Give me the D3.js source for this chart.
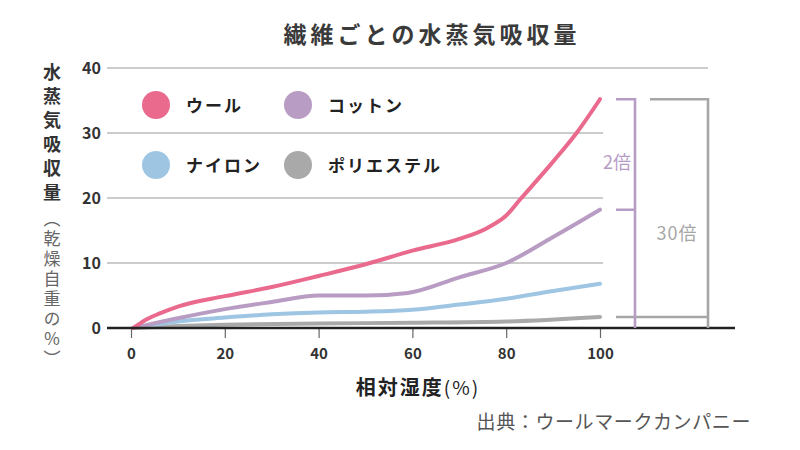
<!DOCTYPE html>
<html><head><meta charset="utf-8">
<script src="https://cdn.jsdelivr.net/npm/d3@7"></script>
<style>
html,body{margin:0;padding:0;background:#fff;}
text{font-family:"Noto Sans CJK JP","Noto Sans",sans-serif;}
</style></head>
<body><svg id="c" width="800" height="450"></svg>
<script>
// ---- data ----
const title = "繊維ごとの水蒸気吸収量";
const xTicks = [0, 20, 40, 60, 80, 100];
const yTicks = [0, 10, 20, 30, 40];
const seriesNames = ["ウール", "コットン", "ナイロン", "ポリエステル"];
const woolHumidity = [0.5, 3, 6, 10, 20, 30, 40, 50, 60, 70, 76, 80, 83, 90, 95, 100];
const woolValues   = [0, 1.2, 2.2, 3.3, 4.9, 6.3, 8.0, 9.8, 11.9, 13.7, 15.4, 17.3, 19.8, 25.6, 30, 35.2];
const cottonHumidity = [0.5, 10, 20, 30, 40, 50, 59, 70, 80, 90, 100];
const cottonValues   = [0, 1.5, 2.9, 4.0, 5.0, 5.0, 5.4, 7.8, 10.0, 14.0, 18.2];
const nylonHumidity = [0.5, 10, 20, 30, 40, 50, 60, 70, 80, 90, 100];
const nylonValues   = [0, 1.0, 1.6, 2.1, 2.4, 2.5, 2.8, 3.6, 4.5, 5.7, 6.8];
const polyHumidity = [0.5, 10, 20, 40, 60, 80, 100];
const polyValues   = [0, 0.3, 0.5, 0.7, 0.8, 1.0, 1.7];
const ratioLabels = ["2倍", "30倍"];
const yTitle = "水蒸気吸収量";
const ySub = "（乾燥自重の％）";
const xTitle = "相対湿度";
const xUnit = "(%)";
const source = "出典：ウールマークカンパニー";

// ---- styles ----
const colors = ["#ea6a8e", "#b89cc4", "#9ec6e3", "#a9a9a9"];
const bracketPurple = "#b69dc6", bracketGray = "#a6a6a6";

const svg = d3.select("#c");
const x = d3.scaleLinear().domain([0, 100]).range([131, 600]);
const y = d3.scaleLinear().domain([0, 40]).range([328, 68]);

// title
svg.append("text").attr("x", 432).attr("y", 43).attr("text-anchor", "middle")
  .attr("font-size", 23).attr("font-weight", 700).attr("fill", "#3a3a3a")
  .attr("letter-spacing", 4).text(title);

// gridlines
svg.append("g").selectAll("line").data(yTicks.filter(d => d > 0)).join("line")
  .attr("x1", 107).attr("x2", d => d === 40 ? 708 : 603)
  .attr("y1", d => y(d)).attr("y2", d => y(d))
  .attr("stroke", "#9a9a9a").attr("stroke-width", 1.2);

// y tick labels
svg.append("g").selectAll("text").data(yTicks).join("text")
  .attr("x", 101).attr("y", d => y(d) + 5.5).attr("text-anchor", "end")
  .attr("font-family", "Lato, 'Noto Sans', sans-serif")
  .attr("font-size", 16).attr("font-weight", 700).attr("fill", "#333").text(d => d);

// x axis
const xAxis = d3.axisBottom(x).tickValues(xTicks).tickSize(10).tickPadding(10);
const gx = svg.append("g").attr("transform", "translate(0,328)").call(xAxis);
gx.select(".domain").remove();
gx.selectAll(".tick line").attr("stroke", "#666").attr("stroke-width", 1.2);
gx.selectAll(".tick text").attr("font-family", "Lato, 'Noto Sans', sans-serif")
  .attr("font-size", 15).attr("font-weight", 700).attr("fill", "#333");

// series lines
const series = [
  [woolHumidity, woolValues], [cottonHumidity, cottonValues],
  [nylonHumidity, nylonValues], [polyHumidity, polyValues]
];
const line = d3.line().x(d => x(d[0])).y(d => y(d[1])).curve(d3.curveMonotoneX);
[3, 2, 1, 0].forEach(i => {
  const pts = series[i][0].map((h, j) => [h, series[i][1][j]]);
  svg.append("path").attr("d", line(pts)).attr("fill", "none")
    .attr("stroke", colors[i]).attr("stroke-width", 4).attr("stroke-linecap", "round")
    .attr("stroke-linejoin", "round");
});

// baseline
svg.append("line").attr("x1", 107).attr("x2", 735).attr("y1", y(0)).attr("y2", y(0))
  .attr("stroke", "#222").attr("stroke-width", 2.6);

// brackets
const xEnd = x(100);
const yW = y(woolValues[woolValues.length - 1]);
const yC = y(cottonValues[cottonValues.length - 1]);
const yP = y(polyValues[polyValues.length - 1]);
const bx1 = xEnd + 16, bx2 = xEnd + 35, gx1 = xEnd + 50, gx2 = xEnd + 108;
const b = svg.append("g").attr("fill", "none").attr("stroke-width", 2.6);
b.append("path").attr("d", `M${gx1},${yW}H${gx2}V${y(0)}`).attr("stroke", bracketGray);
b.append("path").attr("d", `M${bx1},${yP}H${gx2}`).attr("stroke", bracketGray);
b.append("path").attr("d", `M${bx1},${yW}H${bx2}V${y(0)}M${bx1},${yC}H${bx2}`).attr("stroke", bracketPurple);
svg.append("text").attr("x", xEnd + 17).attr("y", (yW + yC) / 2 + 15).attr("text-anchor", "middle")
  .attr("font-size", 18).attr("fill", bracketPurple).text(ratioLabels[0]);
svg.append("text").attr("x", xEnd + 77).attr("y", yC + 30).attr("text-anchor", "middle")
  .attr("font-size", 18).attr("fill", bracketGray).attr("letter-spacing", 1).text(ratioLabels[1]);

// legend
const lg = svg.append("g").selectAll("g").data(seriesNames).join("g")
  .attr("transform", (d, i) => `translate(${156 + (i % 2) * 142},${105 + Math.floor(i / 2) * 60})`);
lg.append("circle").attr("r", 14).attr("fill", (d, i) => colors[i]);
lg.append("text").attr("x", 30).attr("y", 6.5).attr("font-size", 17).attr("font-weight", 700)
  .attr("fill", "#222").attr("letter-spacing", 2).text(d => d);

// y title (vertical)
svg.append("text").attr("x", 52).attr("y", 63)
  .style("writing-mode", "vertical-rl").attr("font-size", 18).attr("font-weight", 700)
  .attr("fill", "#333").attr("letter-spacing", 6).text(yTitle);
svg.append("text").attr("x", 52).attr("y", 210)
  .style("writing-mode", "vertical-rl").attr("font-size", 17).attr("fill", "#666")
  .attr("letter-spacing", 3).text(ySub);

// x title
const xt = svg.append("text").attr("x", 418).attr("y", 395).attr("text-anchor", "middle")
  .attr("fill", "#222");
xt.append("tspan").attr("font-size", 20).attr("font-weight", 700).attr("letter-spacing", 2).text(xTitle);
xt.append("tspan").attr("font-size", 19).attr("font-weight", 400).attr("letter-spacing", 2).text(xUnit);

// source
svg.append("text").attr("x", 751).attr("y", 429).attr("text-anchor", "end")
  .attr("font-size", 19).attr("fill", "#555").attr("letter-spacing", 0.6).text(source);
</script></body></html>
